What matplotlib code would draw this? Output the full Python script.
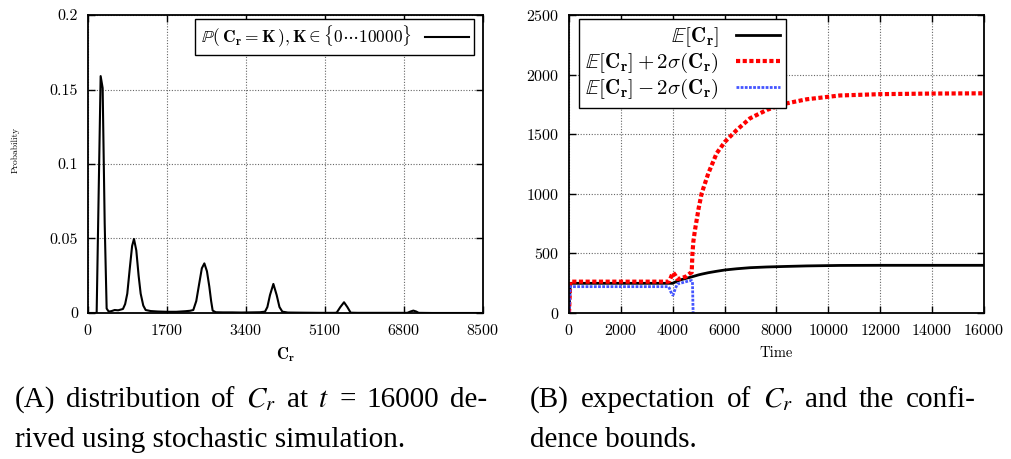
#!/usr/bin/env python
"""
Distribution of C_r at t = 16000 and its expectation with confidence bounds.
"""

import numpy as np
import matplotlib
matplotlib.use("Agg")
import matplotlib.pyplot as plt

plt.rcParams["font.family"] = "serif"
plt.rcParams["font.serif"] = ["cmr10"]
plt.rcParams["mathtext.fontset"] = "cm"
plt.rcParams["axes.formatter.use_mathtext"] = True

# (A) distribution of C_r
dist_k = [0, 187, 230, 273, 316, 360, 402, 445, 500, 574, 650, 753, 800, 846,
          900, 950, 990, 1040, 1090, 1134, 1190, 1241, 1350, 1500, 1700, 1900,
          2100, 2200, 2266, 2330, 2395, 2450, 2504, 2560, 2611, 2650, 2683,
          2750, 2900, 3100, 3300, 3500, 3700, 3809, 3860, 3916, 3989, 4060,
          4120, 4182, 4300, 4600, 5000, 5300, 5350, 5430, 5509, 5580, 5652,
          5800, 6200, 6600, 6870, 6940, 7000, 7060, 7115, 7400, 8000, 8500]
dist_p = [0, 0, 0.08, 0.159, 0.151, 0.06, 0.003, 0.001, 0.0012, 0.002, 0.0018,
          0.0027, 0.006, 0.013, 0.03, 0.045, 0.0497, 0.042, 0.025, 0.013,
          0.005, 0.002, 0.0013, 0.001, 0.0008, 0.0008, 0.0012, 0.0015, 0.002,
          0.008, 0.020, 0.030, 0.0333, 0.028, 0.0177, 0.008, 0.0016, 0.0005,
          0.0004, 0.0004, 0.0003, 0.0004, 0.0005, 0.0009, 0.004, 0.012, 0.0195,
          0.012, 0.004, 0.0009, 0.0003, 0.0002, 0.0001, 0.0001, 0.0002, 0.004,
          0.0072, 0.004, 0.0002, 0.0001, 0.0001, 0.0001, 0.0001, 0.001, 0.0016,
          0.001, 0.0001, 0.0, 0.0, 0.0]

# (B) expectation and bounds over time
time = [0, 50, 1000, 2000, 3000, 3700, 3829, 3868, 3930, 3996, 4022, 4100,
        4177, 4300, 4500, 4665, 4730, 4760, 4795, 4857, 5000, 5115, 5372,
        5693, 6014, 6465, 6978, 7620, 8263, 9162, 10447, 12000, 14000, 16000]
mean = [0, 249, 249, 249, 249, 249, 249, 249, 249, 249, 252, 260, 268, 278,
        290, 299, 303, 305, 307, 311, 320, 326, 338, 350, 361, 371, 380, 386,
        390, 395, 399, 400, 400, 400]
upper = [0, 263, 263, 263, 263, 263, 263, 268, 300, 335, 338, 315, 285, 290,
         305, 333, 340, 500, 600, 696, 880, 1004, 1172, 1340, 1437, 1535, 1633,
         1703, 1753, 1793, 1825, 1836, 1841, 1843]
lower = [0, 221, 221, 221, 221, 221, 221, 210, 175, 151, 155, 205, 243, 250,
         262, 271, 272, 262, -100, -74, -240, -352, -496, -640, -715, -793,
         -873, -931, -973, -1003, -1027, -1036, -1041, -1043]

fig = plt.figure(figsize=(10.11, 4.59), dpi=100)
ax1 = fig.add_axes([0.0870, 0.3181, 0.3908, 0.6492])
ax2 = fig.add_axes([0.5628, 0.3181, 0.4105, 0.6492])

for ax in (ax1, ax2):
    ax.grid(True, linestyle=(0, (1, 1.5)), color="0.4", linewidth=0.8)
    ax.tick_params(direction="in", top=True, right=True, length=5,
                   width=1.0, labelsize=11.5, pad=7)
    for sp in ax.spines.values():
        sp.set_linewidth(1.3)

ax1.plot(dist_k, dist_p, color="black", linewidth=1.5,
         label=r"$\mathbb{P}(\,\mathbf{C_r = K}\,), \mathbf{K} \in \{\mathbf{0}\cdots\mathbf{10000}\}$")
ax1.set_xlim(0, 8500)
ax1.set_ylim(0, 0.2)
ax1.set_xticks(np.arange(0, 8501, 1700))
ax1.set_yticks([0, 0.05, 0.1, 0.15, 0.2])
ax1.set_yticklabels(["0", "0.05", "0.1", "0.15", "0.2"])
ax1.set_xlabel(r"$\mathbf{C_r}$", fontsize=12, labelpad=5)
ax1.set_ylabel("Probability", fontsize=6.8)
ax1.yaxis.set_label_coords(-0.172, 0.547)
ax1.legend(loc="upper right", bbox_to_anchor=(0.977, 0.987), borderaxespad=0,
           markerfirst=False, fancybox=False, edgecolor="black", framealpha=1,
           fontsize=12.5, handlelength=2.5, borderpad=0.3)

ax2.plot(time, mean, color="black", linewidth=2.0,
         label=r"$\mathbb{E}[\mathbf{C_r}]$")
ax2.plot(time, upper, color="red", linewidth=3.0, linestyle=(0, (1, 0.6)),
         label=r"$\mathbb{E}[\mathbf{C_r}] + \mathbf{2}\sigma(\mathbf{C_r})$")
ax2.plot(time, lower, color="#4455ff", linewidth=2.0, linestyle=(0, (1, 0.5)),
         label=r"$\mathbb{E}[\mathbf{C_r}] - \mathbf{2}\sigma(\mathbf{C_r})$")
ax2.set_xlim(0, 16000)
ax2.set_ylim(0, 2500)
ax2.set_xticks(np.arange(0, 16001, 2000))
ax2.set_yticks(np.arange(0, 2501, 500))
ax2.set_xlabel("Time", fontsize=10.5, labelpad=6)
ax2.legend(loc="upper left", bbox_to_anchor=(0.024, 0.987), borderaxespad=0,
           markerfirst=False, fancybox=False, edgecolor="black", framealpha=1,
           fontsize=15, handlelength=2.1, borderpad=0.3, labelspacing=0.1)

# captions, justified like the typeset source
cap = dict(fontsize=21, family="Liberation Serif", math_fontfamily="stix",
           va="baseline")


def justify(words, x0, x1, y):
    texts = [fig.text(0, y, w, **cap) for w in words]
    fig.canvas.draw()
    r = fig.canvas.get_renderer()
    widths = [t.get_window_extent(r).width / fig.bbox.width for t in texts]
    gap = (x1 - x0 - sum(widths)) / (len(words) - 1)
    x = x0
    for t, w in zip(texts, widths):
        t.set_x(x)
        x += w + gap


justify(["(A)", "distribution", "of", "$C_r$", "at", "$t$", "=", "16000", "de-"],
        15 / 1011, 487 / 1011, 1 - 407 / 459)
fig.text(15 / 1011, 1 - 447 / 459, "rived using stochastic simulation.", **cap)
justify(["(B)", "expectation", "of", "$C_r$", "and", "the", "confi-"],
        530 / 1011, 976 / 1011, 1 - 407 / 459)
fig.text(530 / 1011, 1 - 447 / 459, "dence bounds.", **cap)

fig.savefig("out.png", dpi=100)
